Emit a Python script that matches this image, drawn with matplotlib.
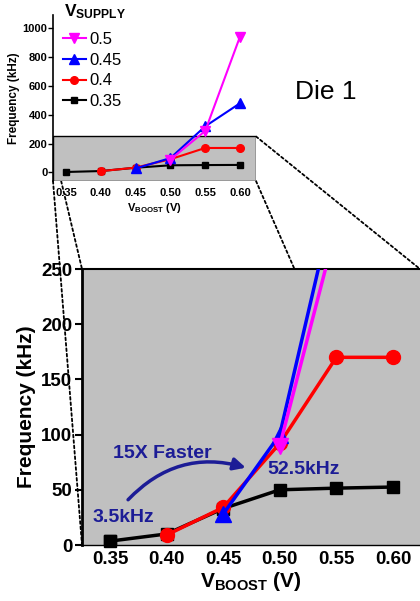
import matplotlib
matplotlib.use("Agg")
import matplotlib.pyplot as plt
from matplotlib.patches import Rectangle, ConnectionPatch

plt.rcParams['font.family'] = ['Liberation Sans', 'DejaVu Sans']
plt.rcParams['mathtext.fontset'] = 'custom'
plt.rcParams['mathtext.rm'] = 'Liberation Sans'
plt.rcParams['mathtext.bf'] = 'Liberation Sans:bold'

# frequency (kHz) vs V_BOOST for each V_SUPPLY
vb_035 = [0.35, 0.40, 0.45, 0.50, 0.55, 0.60]
f_035 = [3.5, 10, 33, 50, 51.5, 52.5]
vb_040 = [0.40, 0.45, 0.50, 0.55, 0.60]
f_040 = [9, 34, 92, 170, 170]
vb_045 = [0.45, 0.50, 0.55, 0.60]
f_045 = [28, 100, 320, 480]
vb_050 = [0.50, 0.55, 0.60]
f_050 = [90, 288, 942]

series = [
    (vb_035, f_035, 'black', 's', '0.35'),
    (vb_040, f_040, '#ff0000', 'o', '0.4'),
    (vb_045, f_045, '#0000ff', '^', '0.45'),
    (vb_050, f_050, '#ff00ff', 'v', '0.5'),
]
xticks = [0.35, 0.40, 0.45, 0.50, 0.55, 0.60]
gray = '#c0c0c0'
navy = '#1c1c96'

fig = plt.figure(figsize=(4.2, 6.01), dpi=100)

# ---- small overview plot ----
ins = fig.add_axes([53/420, 1-181/601, 203/420, 166/601])
ix0, ix1 = 0.3313, 0.623
iy0, iy1 = -59, 1092
ins.set_xlim(ix0, ix1)
ins.set_ylim(iy0, iy1)
ins.add_patch(Rectangle((ix0, iy0), ix1-ix0, 250-iy0, facecolor=gray,
                        edgecolor='black', lw=1, zorder=0.5))
msize = {'s': 4.5, 'o': 5.5, '^': 6.5, 'v': 6.5}
handles = []
for x, y, c, m, lab in series:
    h, = ins.plot(x, y, color=c, marker=m, ms=msize[m], lw=1.5, label=lab,
                  clip_on=False, zorder=3)
    handles.append(h)
for s in ['top', 'right', 'bottom']:
    ins.spines[s].set_visible(False)
ins.spines['left'].set_linewidth(1.2)
ins.set_xticks(xticks)
ins.set_xticklabels(['%.2f' % v for v in xticks], fontsize=8, fontweight='bold')
ins.set_yticks([0, 200, 400, 600, 800, 1000])
ins.set_yticklabels(['0', '200', '400', '600', '800', '1000'], fontsize=8, fontweight='bold')
ins.tick_params(axis='x', length=0, pad=5)
ins.tick_params(axis='y', length=3.5, width=1, pad=0.5)
ins.set_ylabel('Frequency (kHz)', fontsize=8.5, fontweight='bold', labelpad=2)
ins.set_xlabel(r'$\mathbf{V_{BOOST}}$ (V)', fontsize=8, fontweight='bold', labelpad=2)
ins.legend(handles[::-1], [h.get_label() for h in handles[::-1]], fontsize=12,
           loc='upper left', bbox_to_anchor=(0.05, (181-32)/166), frameon=False,
           borderpad=0, borderaxespad=0, handlelength=1.35, handletextpad=0.2,
           labelspacing=0.34)
ins.text(11/203, (181-12)/166, r'$\mathbf{V_{SUPPLY}}$', transform=ins.transAxes,
         fontsize=12.5, ha='left', va='center')
fig.text(326/420, 1-92/601, 'Die 1', fontsize=19, ha='center', va='center')

# ---- zoomed plot ----
ax = fig.add_axes([82/420, 1-545/601, 338/420, 276/601])
ax.set_facecolor(gray)
ax.set_xlim(0.3253, 0.6239)
ax.set_ylim(0, 250)
msize2 = {'s': 8, 'o': 10, '^': 11, 'v': 11}
for x, y, c, m, lab in series:
    ax.plot(x, y, color=c, marker=m, ms=msize2[m], lw=2.5, clip_on=True, zorder=3)
# markers near the bottom edge should not be cut
ax.plot(vb_035[:1], f_035[:1], 's', color='black', ms=8, clip_on=False, zorder=3)
ax.spines['right'].set_visible(False)
ax.spines['left'].set_linewidth(2)
ax.spines['top'].set_linewidth(1.5)
ax.spines['bottom'].set_linewidth(1)
ax.set_xticks(xticks)
ax.set_xticklabels(['%.2f' % v for v in xticks], fontsize=13.5, fontweight='bold')
ax.set_yticks([0, 50, 100, 150, 200, 250])
ax.set_yticklabels(['0', '50', '100', '150', '200', '250'], fontsize=13.5, fontweight='bold')
ax.tick_params(axis='x', length=0, pad=4)
ax.tick_params(axis='y', length=5, width=1.5, pad=2)
ax.set_ylabel('Frequency (kHz)', fontsize=15, fontweight='bold', labelpad=4)
ax.set_xlabel(r'$\mathbf{V_{BOOST}}$ (V)', fontsize=15, fontweight='bold', labelpad=2)

ax.text(0.353, 83, '15X Faster', color=navy, fontsize=14, fontweight='bold', va='center')
ax.text(0.489, 68, '52.5kHz', color=navy, fontsize=14, fontweight='bold', va='center')
ax.text(0.335, 25, '3.5kHz', color=navy, fontsize=14, fontweight='bold', va='center')
ax.annotate('', xy=(0.470, 70), xytext=(0.366, 41),
            arrowprops=dict(arrowstyle='-|>', connectionstyle='arc3,rad=-0.3',
                            color=navy, lw=2.5, mutation_scale=18, shrinkA=0, shrinkB=0))

# ---- dotted zoom lines ----
links = [((ix0, iy0), (0.3253, 0)),
         ((0.343, iy0), (0.3253, 250)),
         ((ix1, iy0), (0.513, 250)),
         ((ix1, 250), (0.6239, 250))]
for a, b in links:
    cp = ConnectionPatch(xyA=a, coordsA=ins.transData, xyB=b, coordsB=ax.transData,
                         color='black', lw=1.3, linestyle=(0, (1.5, 1.5)), zorder=0)
    fig.add_artist(cp)

fig.savefig('out.png', dpi=100)
